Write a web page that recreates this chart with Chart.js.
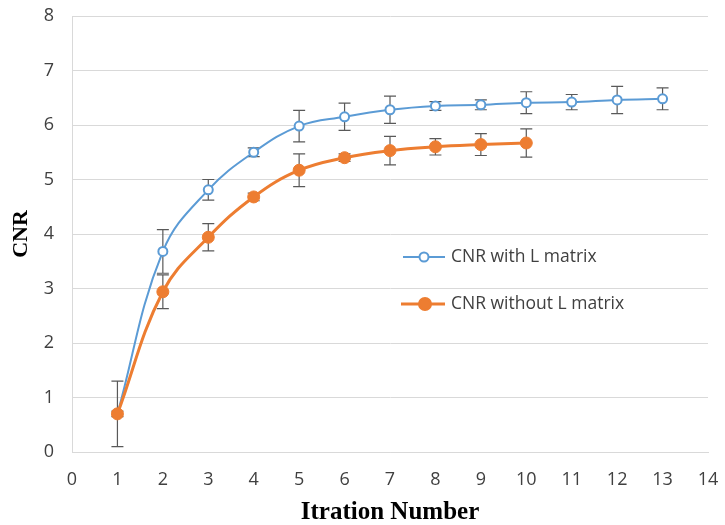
<!DOCTYPE html>
<html>
<head>
<meta charset="utf-8">
<script src="https://cdn.jsdelivr.net/npm/chart.js@4/dist/chart.umd.min.js"></script>
<style>
  html, body { margin: 0; padding: 0; background: #fff; }
  .chart-container { width: 725px; height: 525px; }
</style>
</head>
<body>
<div class="chart-container"><canvas class="chart" width="725" height="525"></canvas></div>
<script>
// data
var iterWith = [1, 2, 3, 4, 5, 6, 7, 8, 9, 10, 11, 12, 13];
var cnrWith = [0.70, 3.68, 4.81, 5.50, 5.98, 6.15, 6.28, 6.35, 6.37, 6.41, 6.42, 6.46, 6.48];
var errWith = [0.60, 0.40, 0.19, 0.08, 0.29, 0.25, 0.25, 0.08, 0.09, 0.20, 0.14, 0.25, 0.20];

var iterWithout = [1, 2, 3, 4, 5, 6, 7, 8, 9, 10];
var cnrWithout = [0.70, 2.94, 3.94, 4.68, 5.17, 5.40, 5.53, 5.60, 5.64, 5.67];
var errWithout = [0.05, 0.31, 0.25, 0.07, 0.30, 0.07, 0.26, 0.15, 0.20, 0.26];

var legendLabels = ["CNR with L matrix", "CNR without L matrix"];
var blue = '#5B9BD5';
var orange = '#ED7D31';

function toPoints(xs, ys) {
  return xs.map((x, i) => ({ x: x, y: ys[i] }));
}

// draws the vertical error bars through the chart's own scales
const errorBars = {
  id: 'errorBars',
  beforeDatasetsDraw(chart) {
    const ctx = chart.ctx;
    const xs = chart.scales.x, ys = chart.scales.y;
    const sets = [[iterWith, cnrWith, errWith], [iterWithout, cnrWithout, errWithout]];
    ctx.save();
    ctx.strokeStyle = '#595959';
    ctx.lineWidth = 1.2;
    sets.forEach(s => {
      s[0].forEach((it, i) => {
        const px = xs.getPixelForValue(it);
        const top = ys.getPixelForValue(s[1][i] + s[2][i]);
        const bot = ys.getPixelForValue(s[1][i] - s[2][i]);
        ctx.beginPath();
        ctx.moveTo(px, top); ctx.lineTo(px, bot);
        ctx.moveTo(px - 6, top); ctx.lineTo(px + 6, top);
        ctx.moveTo(px - 6, bot); ctx.lineTo(px + 6, bot);
        ctx.stroke();
      });
    });
    ctx.restore();
  }
};

// legend sitting inside the plot area, like the excel one
const insideLegend = {
  id: 'insideLegend',
  afterDraw(chart) {
    const ctx = chart.ctx;
    const rows = [
      { y: 257, x0: 403, cx: 424, color: blue, fill: '#fff', r: 4.5, w: 2 },
      { y: 304, x0: 401, cx: 425, color: orange, fill: orange, r: 6, w: 3 }
    ];
    ctx.save();
    rows.forEach((row, i) => {
      ctx.strokeStyle = row.color;
      ctx.lineWidth = row.w;
      ctx.beginPath();
      ctx.moveTo(row.x0, row.y); ctx.lineTo(445, row.y);
      ctx.stroke();
      ctx.beginPath();
      ctx.arc(row.cx, row.y, row.r, 0, Math.PI * 2);
      ctx.fillStyle = row.fill;
      ctx.fill();
      ctx.lineWidth = 2;
      ctx.stroke();
      ctx.fillStyle = '#404040';
      ctx.font = '17.5px "Open Sans"';
      ctx.textBaseline = 'middle';
      ctx.fillText(legendLabels[i], 451, row.y);
    });
    ctx.restore();
  }
};

var config = {
  type: 'line',
  data: {
    datasets: [
      {
        label: legendLabels[0],
        data: toPoints(iterWith, cnrWith),
        borderColor: blue,
        backgroundColor: '#fff',
        borderWidth: 2,
        pointRadius: 4.5,
        pointBorderWidth: 2,
        pointBorderColor: blue,
        pointBackgroundColor: '#fff',
        tension: 0.4,
        order: 2
      },
      {
        label: legendLabels[1],
        data: toPoints(iterWithout, cnrWithout),
        borderColor: orange,
        backgroundColor: orange,
        borderWidth: 3,
        pointRadius: 6,
        pointBorderWidth: 1,
        pointBorderColor: orange,
        pointBackgroundColor: orange,
        tension: 0.4,
        order: 1
      }
    ]
  },
  options: {
    responsive: false,
    animation: false,
    layout: { padding: { top: 16, right: 17, left: 0, bottom: 0 } },
    plugins: {
      legend: { display: false },
      tooltip: { enabled: false }
    },
    scales: {
      x: {
        type: 'linear',
        min: 0,
        max: 14,
        ticks: { stepSize: 1, color: '#404040', padding: 17, font: { family: 'Open Sans', size: 18 } },
        grid: { display: true, drawOnChartArea: false, drawTicks: false },
        border: { color: '#d9d9d9', width: 1 },
        title: {
          display: true,
          text: 'Itration Number',
          color: '#000',
          font: { family: 'Liberation Serif', size: 25, weight: 'bold', lineHeight: 1 },
          padding: { top: 0, bottom: 0 }
        },
        afterFit: s => { s.height = 73; s.paddingLeft = 0; s.paddingRight = 0; }
      },
      y: {
        min: 0,
        max: 8,
        ticks: { stepSize: 1, color: '#404040', padding: 18, font: { family: 'Open Sans', size: 18 } },
        grid: { color: '#d9d9d9', drawTicks: false },
        border: { color: '#d9d9d9', width: 1 },
        title: {
          display: true,
          text: 'CNR',
          color: '#000',
          font: { family: 'Liberation Serif', size: 22, weight: 'bold' },
          padding: { top: 8 }
        },
        afterFit: s => { s.width = 72; s.paddingTop = 0; s.paddingBottom = 0; }
      }
    }
  },
  plugins: [errorBars, insideLegend]
};

var myChart = new Chart(document.querySelector('.chart'), config);
</script>
</body>
</html>
